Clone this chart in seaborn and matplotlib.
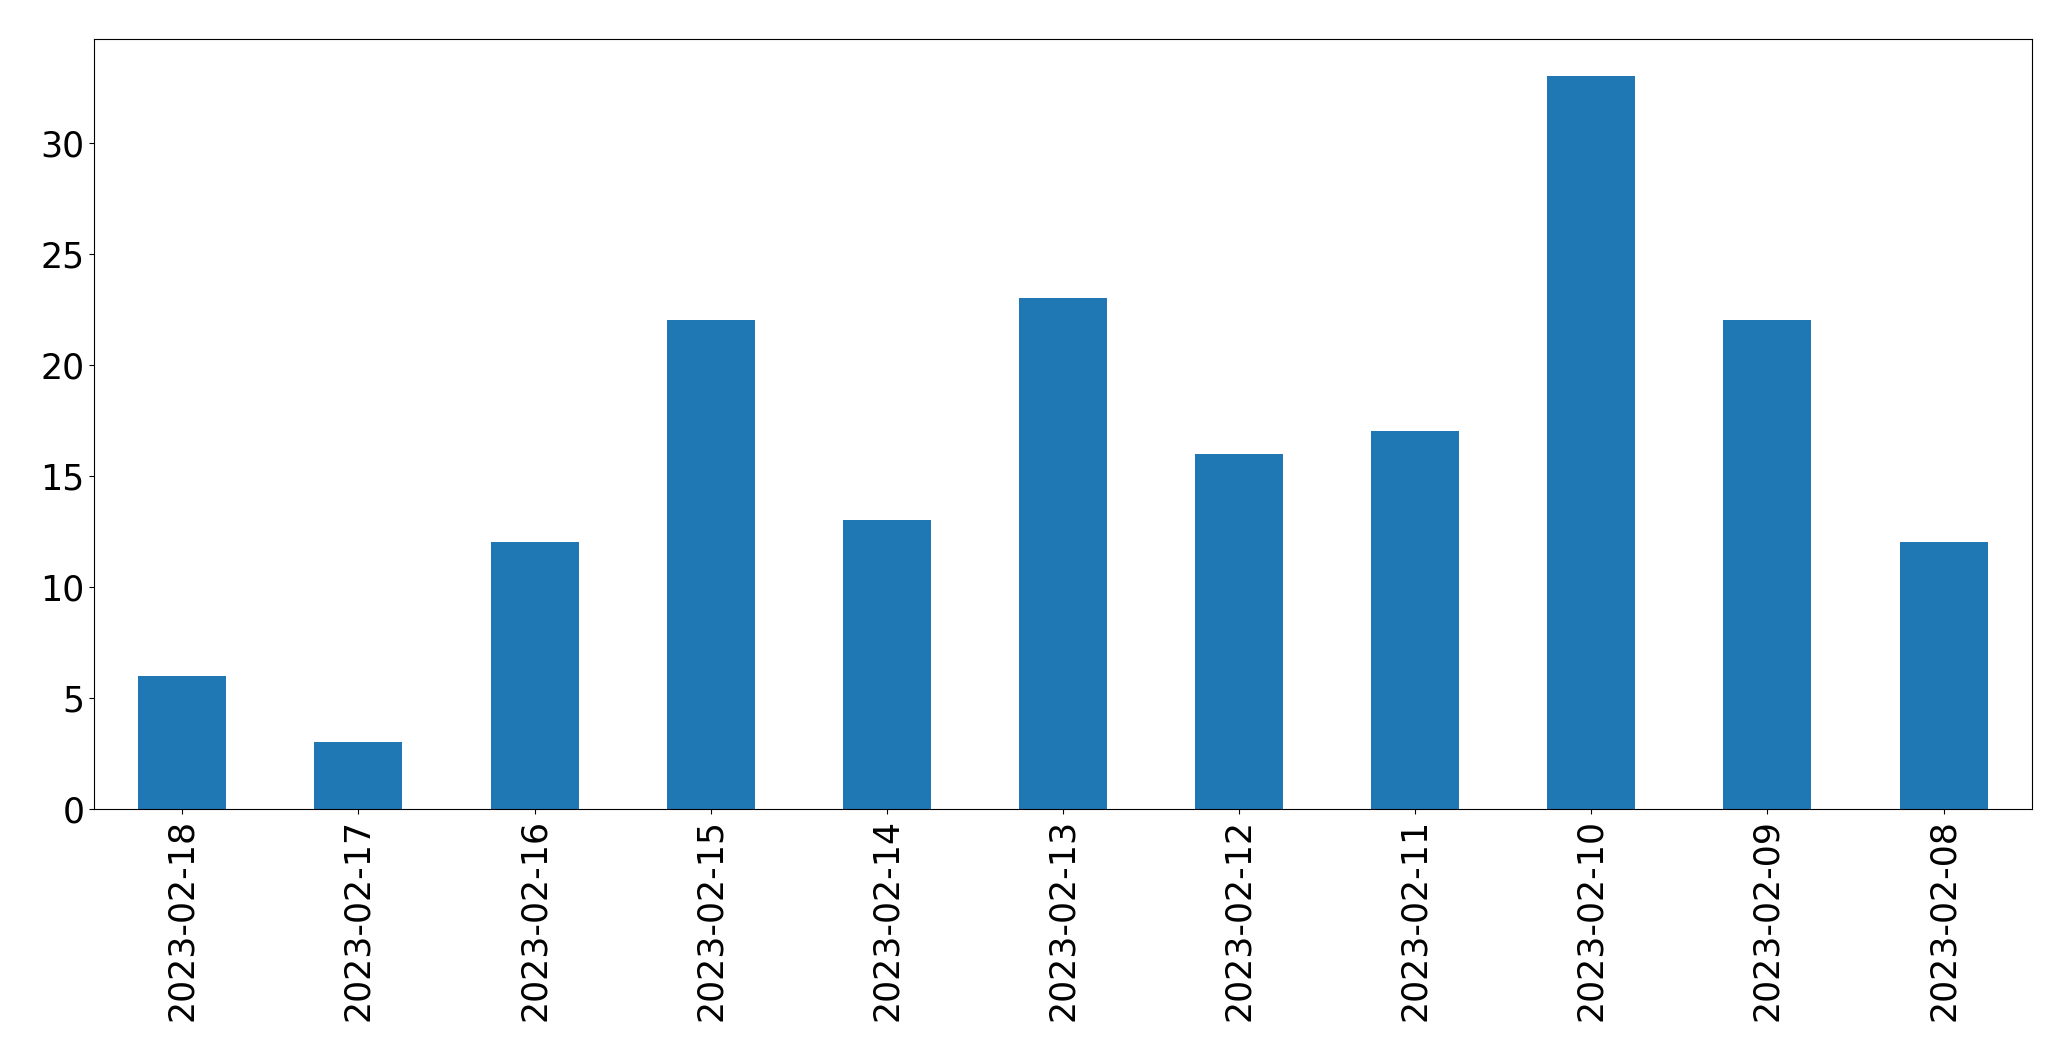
import matplotlib
matplotlib.use("Agg")
from matplotlib import pyplot as plt
import seaborn as sns

dates = ['2023-02-18', '2023-02-17', '2023-02-16', '2023-02-15', '2023-02-14',
         '2023-02-13', '2023-02-12', '2023-02-11', '2023-02-10', '2023-02-09',
         '2023-02-08']
counts = [6, 3, 12, 22, 13, 23, 16, 17, 33, 22, 12]

fig, ax = plt.subplots(figsize=(20.71, 10.61), dpi=100)
fig.subplots_adjust(left=0.0455, right=0.981, top=0.963, bottom=0.2375)

sns.barplot(x=dates, y=counts, color='#1f77b4', saturation=1, width=0.5, ax=ax)

ax.set_xlim(-0.5, len(dates) - 0.5)
ax.set_ylim(0, max(counts) * 1.05)
ax.tick_params(axis='x', labelrotation=90, labelsize=25)
ax.tick_params(axis='y', labelsize=25)
ax.set_xlabel('')
ax.set_ylabel('')

fig.savefig('out.png', dpi=100)
